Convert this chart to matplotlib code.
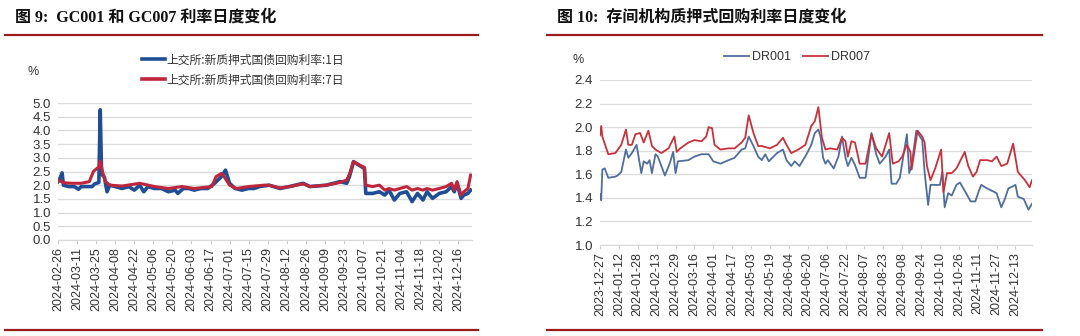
import pandas as pd
import matplotlib
matplotlib.use('Agg')
import matplotlib.pyplot as plt
from matplotlib.lines import Line2D

plt.rcParams['font.family'] = ['Liberation Sans', 'Noto Sans CJK SC', 'DejaVu Sans']

# ── Fig 9: GC001 / GC007 (days counted from 2024-02-26) ─────────────────────
gc_start = pd.Timestamp('2024-02-26')
gc001_days = [0, 1, 3, 4, 8, 12, 15, 17, 20, 25, 27, 30, 31, 32, 34, 36, 38, 42, 47, 52,
              56, 60, 63, 66, 71, 76, 81, 86, 88, 92, 96, 100, 105, 110, 115, 120, 123,
              126, 130, 135, 140, 144, 148, 155, 163, 170, 180, 185, 197, 207, 212, 214,
              217, 221, 225, 226, 231, 236, 240, 243, 247, 251, 256, 260, 264, 268, 271,
              275, 280, 285, 289, 291, 293, 296, 298, 301, 303]
gc001_vals = [2.13, 2.20, 2.45, 2.00, 1.95, 1.95, 1.85, 1.95, 1.95, 1.95, 2.05, 2.10, 4.75,
              2.40, 2.30, 1.76, 2.00, 1.95, 1.88, 1.95, 1.82, 2.00, 1.76, 1.95, 1.88, 1.88,
              1.76, 1.82, 1.70, 1.88, 1.88, 1.82, 1.88, 1.88, 2.07, 2.31, 2.55, 2.07, 1.88,
              1.82, 1.88, 1.88, 1.95, 2.00, 1.88, 1.95, 2.07, 1.95, 2.00, 2.13, 2.07, 2.31,
              2.86, 2.73, 2.61, 1.70, 1.70, 1.76, 1.64, 1.82, 1.46, 1.70, 1.76, 1.40, 1.70,
              1.46, 1.76, 1.52, 1.70, 1.76, 1.95, 1.76, 2.07, 1.52, 1.64, 1.70, 1.82]
gc007_days = [0, 4, 10, 17, 23, 26, 30, 31, 33, 35, 38, 47, 60, 71, 81, 91, 100, 113, 116,
              120, 122, 126, 131, 140, 151, 155, 163, 170, 180, 185, 197, 207, 212, 214,
              217, 221, 225, 226, 231, 236, 240, 243, 247, 251, 256, 260, 264, 268, 271,
              275, 280, 285, 289, 291, 293, 296, 298, 301, 303]
gc007_vals = [2.19, 2.09, 2.07, 2.07, 2.13, 2.50, 2.67, 2.89, 2.43, 2.13, 2.00, 1.97, 2.07,
              1.95, 1.88, 1.95, 1.88, 1.95, 2.31, 2.43, 2.31, 2.00, 1.88, 1.95, 2.00, 2.00,
              1.90, 1.95, 2.05, 1.95, 2.00, 2.10, 2.19, 2.40, 2.86, 2.75, 2.65, 2.00, 1.95,
              2.00, 1.82, 1.88, 1.82, 1.88, 1.95, 1.82, 1.88, 1.82, 1.88, 1.82, 1.88, 1.95,
              2.07, 1.82, 2.13, 1.64, 1.76, 1.88, 2.37]
gc_labels = ['上交所:新质押式国债回购利率:1日', '上交所:新质押式国债回购利率:7日']

# ── Fig 10: DR001 / DR007 (days counted from 2023-12-27) ────────────────────
dr_start = pd.Timestamp('2023-12-27')
dr001_days = [0, 1, 2, 4, 7, 13, 15, 18, 22, 24, 27, 31, 35, 37, 40, 42, 44, 47, 49, 55,
              59, 62, 64, 66, 75, 80, 86, 92, 96, 102, 109, 114, 120, 123, 126, 130, 134,
              137, 140, 143, 150, 155, 158, 162, 165, 169, 175, 179, 182, 185, 187, 189,
              191, 193, 198, 202, 205, 208, 210, 213, 216, 220, 225, 230, 234, 237, 242,
              245, 247, 251, 254, 260, 262, 264, 268, 273, 275, 278, 280, 288, 290, 292,
              295, 298, 302, 305, 309, 314, 318, 321, 323, 328, 332, 336, 340, 343, 346,
              352, 354, 359, 363, 366]
dr001_vals = [1.43, 1.38, 1.64, 1.65, 1.57, 1.58, 1.59, 1.62, 1.81, 1.74, 1.78, 1.85, 1.61,
              1.71, 1.69, 1.72, 1.61, 1.77, 1.75, 1.59, 1.69, 1.79, 1.61, 1.71, 1.72, 1.75,
              1.77, 1.77, 1.71, 1.69, 1.72, 1.74, 1.81, 1.82, 1.92, 1.84, 1.75, 1.72, 1.77,
              1.71, 1.78, 1.81, 1.72, 1.67, 1.71, 1.67, 1.77, 1.85, 1.95, 1.98, 1.91, 1.74,
              1.69, 1.72, 1.65, 1.75, 1.92, 1.74, 1.67, 1.74, 1.68, 1.57, 1.57, 1.95, 1.77,
              1.69, 1.75, 1.81, 1.52, 1.52, 1.57, 1.94, 1.61, 1.68, 1.97, 1.89, 1.62, 1.34,
              1.51, 1.51, 1.62, 1.32, 1.44, 1.42, 1.51, 1.53, 1.46, 1.37, 1.37, 1.46, 1.51,
              1.48, 1.46, 1.44, 1.32, 1.39, 1.48, 1.51, 1.41, 1.39, 1.30, 1.35]
dr007_days = [0, 1, 2, 7, 13, 18, 22, 24, 27, 30, 34, 37, 41, 44, 47, 52, 58, 63, 65, 68,
              75, 80, 86, 90, 92, 95, 97, 102, 109, 114, 120, 123, 126, 130, 134, 137, 144,
              150, 155, 158, 162, 168, 174, 179, 182, 185, 188, 191, 195, 201, 205, 208,
              210, 213, 216, 220, 225, 230, 234, 239, 245, 248, 253, 256, 260, 263, 264,
              269, 273, 275, 277, 280, 284, 289, 291, 294, 298, 302, 305, 309, 312, 316,
              319, 322, 328, 332, 336, 340, 345, 350, 354, 360, 364, 366]
dr007_vals = [1.93, 2.01, 1.92, 1.77, 1.78, 1.85, 1.98, 1.85, 1.85, 1.94, 1.95, 1.87, 1.97,
              1.84, 1.81, 1.78, 1.82, 1.92, 1.79, 1.82, 1.87, 1.89, 1.88, 1.92, 2.00, 1.99,
              1.85, 1.81, 1.82, 1.82, 1.87, 1.91, 2.10, 1.95, 1.84, 1.84, 1.82, 1.85, 1.91,
              1.85, 1.78, 1.81, 1.85, 2.01, 2.05, 2.17, 1.91, 1.81, 1.82, 1.81, 1.91, 1.88,
              1.75, 1.88, 1.87, 1.69, 1.69, 1.94, 1.82, 1.75, 1.95, 1.69, 1.71, 1.75, 1.85,
              1.79, 1.64, 1.97, 1.92, 1.87, 1.67, 1.55, 1.65, 1.81, 1.45, 1.61, 1.61, 1.65,
              1.71, 1.79, 1.67, 1.58, 1.62, 1.72, 1.72, 1.71, 1.75, 1.67, 1.69, 1.86, 1.62,
              1.55, 1.49, 1.55]
dr_labels = ['DR001', 'DR007']


def to_dates(start, days):
    return start + pd.to_timedelta(days, unit='D')


def style(ax):
    for s in ['top', 'right', 'left']:
        ax.spines[s].set_visible(False)
    ax.spines['bottom'].set_color('#d9d9d9')
    ax.grid(axis='y', color='#dcdcdc', lw=1)
    ax.set_axisbelow(True)
    ax.tick_params(axis='y', length=0, labelsize=9.5, labelcolor='#333333', pad=5)
    ax.tick_params(axis='x', length=3, color='#d0d0d0', labelsize=9,
                   labelcolor='#333333', pad=2)


W, H = 1080, 336
fig = plt.figure(figsize=(W / 100, H / 100), dpi=100)

# ── left panel ──────────────────────────────────────────────────────────────
axL = fig.add_axes([58 / W, 96 / H, 414 / W, 137 / H])
axL.plot(to_dates(gc_start, gc001_days), gc001_vals, color='#1F4E96', lw=2.6)
axL.plot(to_dates(gc_start, gc007_days), gc007_vals, color='#C0263B', lw=2.2)
axL.set_ylim(0, 5)
axL.set_yticks([i * 0.5 for i in range(11)])
axL.set_yticklabels([f'{i * 0.5:.1f}' for i in range(11)])
axL.set_xlim(gc_start, gc_start + pd.Timedelta(days=304))
ticksL = pd.date_range(gc_start, periods=22, freq='14D')
axL.set_xticks(ticksL)
axL.set_xticklabels([d.strftime('%Y-%m-%d') for d in ticksL], rotation=90)
style(axL)

# ── right panel ─────────────────────────────────────────────────────────────
axR = fig.add_axes([600 / W, 91 / H, 432 / W, 165 / H])
axR.plot(to_dates(dr_start, dr001_days), dr001_vals, color='#4F6E9E', lw=1.3)
axR.plot(to_dates(dr_start, dr007_days), dr007_vals, color='#C8313C', lw=1.3)
axR.set_ylim(1.0, 2.4)
axR.set_yticks([1.0 + i * 0.2 for i in range(8)])
axR.set_yticklabels([f'{1.0 + i * 0.2:.1f}' for i in range(8)])
axR.set_xlim(dr_start, dr_start + pd.Timedelta(days=366))
ticksR = pd.date_range(dr_start, periods=23, freq='16D')
axR.set_xticks(ticksR)
axR.set_xticklabels([d.strftime('%Y-%m-%d') for d in ticksR], rotation=90)
style(axR)

# ── legends ─────────────────────────────────────────────────────────────────
hL = [Line2D([], [], color='#1F4E96', lw=2.6), Line2D([], [], color='#C0263B', lw=2.6)]
fig.legend(hL, gc_labels, loc='center', bbox_to_anchor=(243 / W, 1 - 70 / H),
           frameon=False, fontsize=8.5, handlelength=2.0, handletextpad=0.1,
           labelspacing=0.6, prop={'family': ['Noto Sans CJK SC', 'DejaVu Sans'], 'size': 8.5},
           labelcolor='#333333')
hR = [Line2D([], [], color='#4F6E9E', lw=1.3), Line2D([], [], color='#C8313C', lw=1.3)]
fig.legend(hR, dr_labels, loc='center', bbox_to_anchor=(797 / W, 1 - 57 / H), ncol=2,
           frameon=False, fontsize=9, handlelength=2.0, handletextpad=0.2,
           columnspacing=1.0, labelcolor='#333333')

# ── titles, units, rules ────────────────────────────────────────────────────
title_font = ['Liberation Serif', 'Noto Sans CJK SC', 'DejaVu Sans']
fig.text(15 / W, 1 - 18 / H, '图 9:  GC001 和 GC007 利率日度变化', fontsize=11.5,
         fontweight='bold', family=title_font, va='center', color='#111111')
fig.text(557 / W, 1 - 18 / H, '图 10:  存间机构质押式回购利率日度变化', fontsize=11.5,
         fontweight='bold', family=title_font, va='center', color='#111111')
fig.text(33 / W, 1 - 72 / H, '%', fontsize=9, ha='center', va='center', color='#333333')
fig.text(578 / W, 1 - 60 / H, '%', fontsize=9, ha='center', va='center', color='#333333')

for x0, x1 in [(5, 478), (547, 1042)]:
    for y in (35, 330):
        fig.add_artist(Line2D([x0 / W, x1 / W], [1 - y / H, 1 - y / H],
                              color='#9B1C1C', lw=1.6))

fig.savefig('out.png', dpi=100)
